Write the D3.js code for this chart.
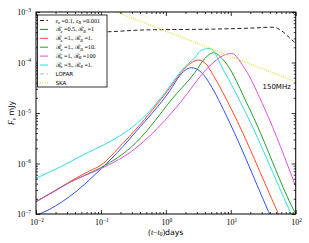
<!DOCTYPE html>
<html>
<head>
<meta charset="utf-8">
<script src="https://cdn.jsdelivr.net/npm/d3@7/dist/d3.min.js"></script>
<style>
body { margin: 0; background: #fff; }
svg { display: block; }
</style>
</head>
<body>
<svg id="chart" width="309" height="243"></svg>
<script>
// tick decades (powers of ten)
const xDecades = [-2, -1, 0, 1, 2];
const yDecades = [-7, -6, -5, -4, -3];

// reference model, eps_e=0.1 eps_B=0.001
const daysRef = [0.01, 0.13, 0.43, 6.1, 25, 40.3, 48.2, 56, 64.6, 80, 100];
const fluxRef = [3.9e-4, 4.07e-4, 4.4e-4, 4.6e-4, 4.85e-4, 5.0e-4, 4.95e-4, 4.5e-4, 4.0e-4, 3.1e-4, 2.4e-4];

// R_e=0.5, R_B=1
const daysBlue = [0.01, 0.0119, 0.0326, 0.1, 0.217, 0.348, 1.16, 1.66, 2.1, 2.5, 3.55, 5.4, 7.7, 38, 41.7];
const fluxBlue = [9.5e-8, 1.03e-7, 2.2e-7, 7.8e-7, 2.15e-6, 4.3e-6, 2.8e-5, 5.6e-5, 7.4e-5, 7.9e-5, 6.3e-5, 2.85e-5, 1.17e-5, 1.12e-7, 8.5e-8];

// R_e=1, R_B=1
const daysRed = [0.01, 0.0204, 0.0326, 0.0589, 0.1, 0.217, 0.348, 1.16, 1.66, 2.24, 3.16, 4.17, 5.37, 10.35, 52.2, 57.5];
const fluxRed = [1.75e-7, 3.0e-7, 4.3e-7, 6.6e-7, 9.3e-7, 2.5e-6, 4.8e-6, 3.2e-5, 6.0e-5, 9.0e-5, 1.12e-4, 9.3e-5, 5.6e-5, 1.15e-5, 1.12e-7, 8.5e-8];

// R_e=1, R_B=10
const daysGreen = [0.01, 0.0204, 0.0326, 0.0589, 0.1, 0.348, 0.682, 1.16, 2.82, 3.98, 5.4, 7.7, 19.8, 95.5, 100];
const fluxGreen = [1.75e-7, 2.95e-7, 4.2e-7, 6.0e-7, 8.3e-7, 2.6e-6, 7.0e-6, 1.7e-5, 6.4e-5, 1.2e-4, 1.56e-4, 1.12e-4, 1.15e-5, 1.12e-7, 1.0e-7];

// R_e=1, R_B=100
const daysMagenta = [0.01, 0.0204, 0.0326, 0.0589, 0.1, 0.348, 0.973, 1.66, 4.8, 7.7, 10.35, 15.7, 33.9, 100];
const fluxMagenta = [1.75e-7, 2.95e-7, 4.2e-7, 5.9e-7, 7.9e-7, 2.04e-6, 7.2e-6, 1.6e-5, 8.7e-5, 1.38e-4, 1.51e-4, 8.3e-5, 1.15e-5, 3.5e-7];

// R_e=3, R_B=1
const daysCyan = [0.01, 0.0251, 0.0589, 0.1, 0.158, 0.264, 0.5, 0.865, 1.98, 2.82, 3.5, 4.79, 7.7, 16.2, 82, 89];
const fluxCyan = [5.1e-7, 8.9e-7, 1.58e-6, 2.19e-6, 3.0e-6, 4.57e-6, 9.3e-6, 2.09e-5, 8.3e-5, 1.26e-4, 1.74e-4, 1.9e-4, 7.1e-5, 1.15e-5, 1.12e-7, 8.9e-8];

// SKA sensitivity
const daysSKA = [0.1, 100];
const fluxSKA = [1.32e-3, 4.18e-5];

const legendLabels = ['ε_e =0.1, ε_B =0.001', 'ℛ_e =0.5, ℛ_B =1', 'ℛ_e =1., ℛ_B =1.',
  'ℛ_e =1., ℛ_B =10.', 'ℛ_e =1, ℛ_B =100', 'ℛ_e =3., ℛ_B =1.', 'LOFAR', 'SKA'];

const svg = d3.select('#chart');
const plot = { left: 36, right: 295.7, top: 12, bottom: 214 };

const x = d3.scaleLog().domain([1e-2, 1e2]).range([plot.left, plot.right]);
const y = d3.scaleLog().domain([1e-7, 1e-3]).range([plot.bottom, plot.top]);

svg.append('clipPath').attr('id', 'clip')
  .append('rect')
  .attr('x', plot.left).attr('y', plot.top)
  .attr('width', plot.right - plot.left).attr('height', plot.bottom - plot.top);

const series = [
  { t: daysRef, f: fluxRef, color: '#222', dash: '4,2.5', w: 1 },
  { t: daysBlue, f: fluxBlue, color: '#3050f0', dash: null, w: 1 },
  { t: daysRed, f: fluxRed, color: '#ff4a2a', dash: null, w: 1 },
  { t: daysGreen, f: fluxGreen, color: '#2a9e2a', dash: null, w: 1 },
  { t: daysMagenta, f: fluxMagenta, color: '#dd50dd', dash: null, w: 1 },
  { t: daysCyan, f: fluxCyan, color: '#30dede', dash: null, w: 1 },
  { t: [], f: [], color: '#bbb', dash: '4,2.5', w: 1 },          // LOFAR, off the plot
  { t: daysSKA, f: fluxSKA, color: '#e0e030', dash: '1,1.3', w: 1.3 }
];

const line = d3.line()
  .x(d => x(d[0]))
  .y(d => y(d[1]))
  .curve(d3.curveMonotoneX);

const lines = svg.append('g').attr('clip-path', 'url(#clip)');
series.forEach(s => {
  if (!s.t.length) return;
  lines.append('path')
    .datum(d3.zip(s.t, s.f))
    .attr('d', line)
    .attr('fill', 'none')
    .attr('stroke', s.color)
    .attr('stroke-width', s.w)
    .attr('stroke-dasharray', s.dash);
});

// ticks on all four sides, pointing in
const isPow10 = v => Math.abs(Math.log10(v) - Math.round(Math.log10(v))) < 1e-9;
const xMajor = xDecades.map(e => Math.pow(10, e));
const yMajor = yDecades.map(e => Math.pow(10, e));
const xMinor = x.ticks().filter(v => !isPow10(v));
const yMinor = y.ticks().filter(v => !isPow10(v));

function tickRow(axis, scale, tr, vals, len) {
  svg.append('g').attr('transform', tr)
    .call(axis(scale).tickValues(vals).tickSizeInner(-len).tickSizeOuter(0).tickFormat(''))
    .call(g => g.select('.domain').remove())
    .selectAll('line').attr('stroke-width', 0.8);
}
tickRow(d3.axisBottom, x, `translate(0,${plot.bottom})`, xMajor, 4);
tickRow(d3.axisBottom, x, `translate(0,${plot.bottom})`, xMinor, 2);
tickRow(d3.axisTop, x, `translate(0,${plot.top})`, xMajor, 4);
tickRow(d3.axisTop, x, `translate(0,${plot.top})`, xMinor, 2);
tickRow(d3.axisLeft, y, `translate(${plot.left},0)`, yMajor, 4);
tickRow(d3.axisLeft, y, `translate(${plot.left},0)`, yMinor, 2);
tickRow(d3.axisRight, y, `translate(${plot.right},0)`, yMajor, 4);
tickRow(d3.axisRight, y, `translate(${plot.right},0)`, yMinor, 2);

svg.append('rect')
  .attr('x', plot.left).attr('y', plot.top)
  .attr('width', plot.right - plot.left).attr('height', plot.bottom - plot.top)
  .attr('fill', 'none').attr('stroke', '#000').attr('stroke-width', 1);

// tick labels 10^n
const labelFont = '"Liberation Serif", serif';
xDecades.forEach(e => {
  const t = svg.append('text')
    .attr('x', x(Math.pow(10, e)) + 1).attr('y', 225)
    .attr('text-anchor', 'middle')
    .attr('font-family', labelFont).attr('font-size', 8);
  t.append('tspan').text('10');
  t.append('tspan').attr('dy', -3.5).attr('font-size', 5.5).text(e < 0 ? '−' + (-e) : e);
});
yDecades.forEach(e => {
  const t = svg.append('text')
    .attr('x', 31).attr('y', y(Math.pow(10, e)) + 3)
    .attr('text-anchor', 'end')
    .attr('font-family', labelFont).attr('font-size', 8);
  t.append('tspan').text('10');
  t.append('tspan').attr('dy', -3.5).attr('font-size', 5.5).text('−' + (-e));
});

// axis titles
const xt = svg.append('text')
  .attr('x', (plot.left + plot.right) / 2).attr('y', 234.5)
  .attr('text-anchor', 'middle').attr('font-size', 7.8)
  .attr('font-family', 'DejaVu Sans');
xt.append('tspan').attr('font-family', labelFont).text('(');
xt.append('tspan').attr('font-family', labelFont).attr('font-style', 'italic').text('t');
xt.append('tspan').attr('font-family', labelFont).text('−');
xt.append('tspan').attr('font-family', labelFont).attr('font-style', 'italic').text('t');
xt.append('tspan').attr('font-family', labelFont).attr('font-size', 5.5).attr('dy', 1.5).text('0');
xt.append('tspan').attr('font-family', labelFont).attr('dy', -1.5).text(')');
xt.append('tspan').text('days');

const yt = svg.append('text')
  .attr('transform', `translate(14,${(plot.top + plot.bottom) / 2}) rotate(-90)`)
  .attr('text-anchor', 'middle').attr('font-size', 7.8)
  .attr('font-family', 'DejaVu Sans');
yt.append('tspan').attr('font-family', labelFont).attr('font-style', 'italic').text('F');
yt.append('tspan').attr('font-family', labelFont).attr('font-style', 'italic').attr('font-size', 5.5).attr('dy', 1.5).text('ν');
yt.append('tspan').attr('dy', -1.5).text(' mJy');

svg.append('text')
  .attr('x', 262.5).attr('y', 88.5)
  .attr('font-family', 'DejaVu Sans').attr('font-size', 7)
  .text('150MHz');

// legend
const leg = svg.append('g');
leg.append('rect')
  .attr('x', 37.5).attr('y', 15).attr('width', 69.5).attr('height', 72)
  .attr('fill', '#fff').attr('stroke', '#000').attr('stroke-width', 0.8);

legendLabels.forEach((lab, i) => {
  const s = series[i];
  const cy = 20.5 + i * 8.9;
  leg.append('line')
    .attr('x1', 40).attr('x2', 48).attr('y1', cy).attr('y2', cy)
    .attr('stroke', s.color).attr('stroke-width', s.w)
    .attr('stroke-dasharray', s.dash);
  const math = lab.includes('_');
  const t = leg.append('text')
    .attr('x', 55.5).attr('y', cy + 2)
    .attr('font-family', math ? labelFont : 'DejaVu Sans')
    .attr('font-size', math ? 6.2 : 5.6);
  const parts = lab.split(/_(.)/);
  parts.forEach((p, j) => {
    if (j % 2 === 1) {
      t.append('tspan').attr('font-size', 4.3).attr('dy', 1.3).attr('font-style', 'italic').text(p);
    } else if (p.length) {
      const sp = t.append('tspan').text(p);
      if (j > 0) sp.attr('dy', -1.3);
    }
  });
});
</script>
</body>
</html>
